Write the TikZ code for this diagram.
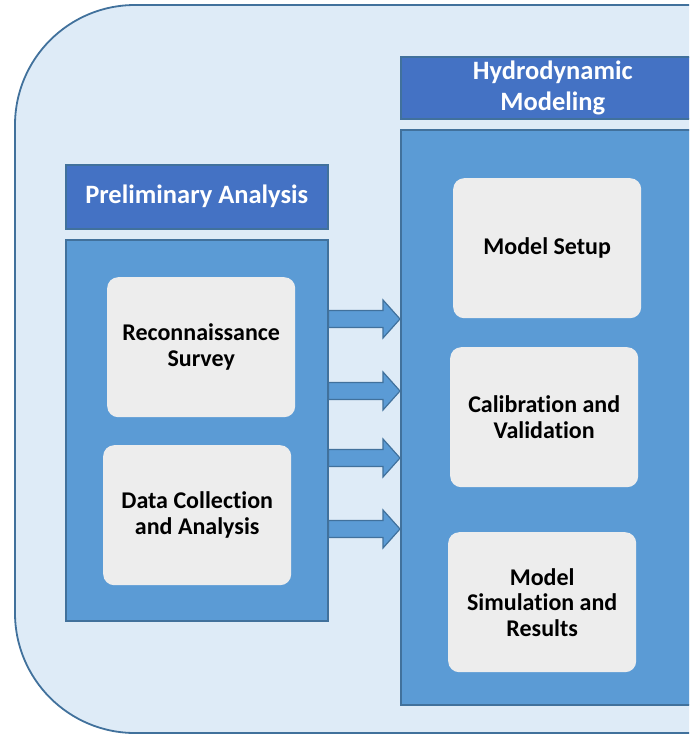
\documentclass[tikz,border=0pt]{standalone}
\usepackage{fontspec}
\setmainfont{Carlito}[Ligatures=NoCommon]
\usetikzlibrary{positioning,calc}

\definecolor{bgblue}{HTML}{DEEBF7}
\definecolor{edgeblue}{HTML}{41719C}
\definecolor{hdrblue}{HTML}{4472C4}
\definecolor{panelblue}{HTML}{5B9BD5}
\definecolor{boxgray}{HTML}{EDEDED}

\tikzset{
  hdr/.style={draw=edgeblue, line width=1.5pt, fill=hdrblue, anchor=north west,
    text=white, font=\fontsize{26.5}{31}\selectfont\bfseries, align=center, inner sep=0pt},
  panel/.style={draw=edgeblue, line width=1.5pt, fill=panelblue, anchor=north west, inner sep=0pt},
  stepbox/.style={fill=boxgray, rounded corners=11pt, anchor=north west, minimum width=188pt,
    minimum height=140pt, font=\fontsize{24}{25.5}\selectfont\bfseries, align=center, inner sep=0pt},
  blockarrow/.style={draw=edgeblue, line width=1.2pt, fill=panelblue, line join=miter}
}

\begin{document}
\begin{tikzpicture}[x=1pt, y=-1pt]
\clip (0,0) rectangle (689,734);

% background
\draw[draw=edgeblue, line width=1.8pt, fill=bgblue, rounded corners=120pt]
  (15,5) rectangle (900,733);

% preliminary analysis
\node[hdr, minimum width=262pt, minimum height=64pt] (pahdr) at (65,164) {Preliminary Analysis};
\node[panel, minimum width=262pt, minimum height=381pt] (pa) at (65,239) {};
\node[stepbox] (recon) at (107,277) {Reconnaissance\\Survey};
\node[stepbox] (data) at (103,445) {Data Collection\\and Analysis};

% hydrodynamic modeling
\node[hdr, minimum width=304pt, minimum height=62pt] (hmhdr) at (400,56) {Hydrodynamic\\Modeling};
\node[panel, minimum width=304pt, minimum height=575pt] (hm) at (400,129) {};
\node[stepbox] (setup) at (453,178) {Model Setup};
\node[stepbox] (calib) at (450,347) {Calibration and\\Validation};
\node[stepbox] (sim) at (448,532) {Model\\Simulation and\\Results};

% arrows
\foreach \y in {319,391,458,529}
  \draw[blockarrow] (hm.west |- 0,\y) -- ++(-17,-19) -- ++(0,10.5)
    -- (pa.east |- 0,\y-8.5) -- (pa.east |- 0,\y+8.5)
    -- ($(hm.west |- 0,\y)+(-17,8.5)$) -- ++(0,10.5) -- cycle;

\end{tikzpicture}
\end{document}
